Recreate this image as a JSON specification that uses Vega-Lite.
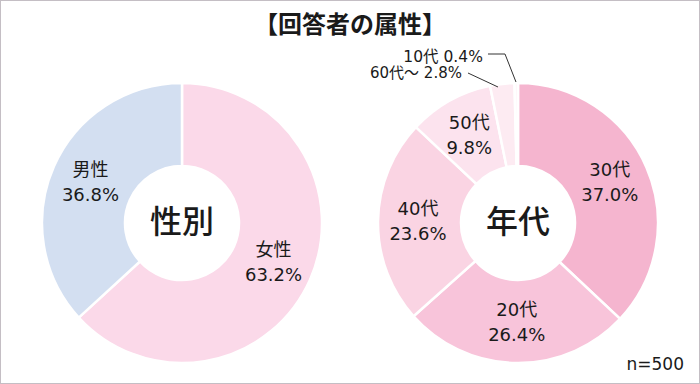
{
  "$schema": "https://vega.github.io/schema/vega-lite/v6.json",
  "width": 700,
  "height": 384,
  "autosize": {"type": "fit", "contains": "padding"},
  "padding": 0,
  "background": "white",
  "config": {
    "view": {"stroke": "#c4bec4", "strokeWidth": 2},
    "font": "DejaVu Sans, Noto Sans CJK JP",
    "text": {"font": "DejaVu Sans, Noto Sans CJK JP", "color": "#1a1a1a"}
  },
  "data": {
    "values": [
      {"chart": "性別", "label": "女性", "pct": 63.2, "rank": 1},
      {"chart": "性別", "label": "男性", "pct": 36.8, "rank": 2},
      {"chart": "年代", "label": "30代", "pct": 37.0, "rank": 1},
      {"chart": "年代", "label": "20代", "pct": 26.4, "rank": 2},
      {"chart": "年代", "label": "40代", "pct": 23.6, "rank": 3},
      {"chart": "年代", "label": "50代", "pct": 9.8, "rank": 4},
      {"chart": "年代", "label": "60代～", "pct": 2.8, "rank": 5},
      {"chart": "年代", "label": "10代", "pct": 0.4, "rank": 6}
    ]
  },
  "transform": [
    {"stack": "pct", "groupby": ["chart"], "sort": [{"field": "rank", "order": "ascending"}], "as": ["t0", "t1"]},
    {"calculate": "(datum.t0 + datum.t1) / 2", "as": "mid"},
    {"calculate": "[datum.label, format(datum.pct, '.1f') + '%']", "as": "lines"},
    {"calculate": "datum.label + ' ' + format(datum.pct, '.1f') + '%'", "as": "line1"}
  ],
  "layer": [
    {
      "mark": {"type": "arc", "outerRadius": 140, "innerRadius": 57, "stroke": "white", "strokeWidth": 2.5},
      "encoding": {
        "x": {"field": "chart", "type": "nominal", "scale": {"type": "point", "domain": ["性別", "年代"], "padding": 0.5417}, "axis": null},
        "y": {"datum": 0, "type": "quantitative", "scale": {"domain": [-161, 223], "nice": false, "zero": false}, "axis": null},
        "theta": {"field": "t0", "type": "quantitative", "scale": {"domain": [0, 100]}},
        "theta2": {"field": "t1"},
        "color": {
          "field": "label",
          "type": "nominal",
          "scale": {
            "domain": ["女性", "男性", "30代", "20代", "40代", "50代", "60代～", "10代"],
            "range": ["#fbd9e9", "#d3dff1", "#f5b5cf", "#f8c4da", "#fad4e3", "#fce3ee", "#fdebf2", "#fff5f9"]
          },
          "legend": null
        }
      }
    },
    {
      "transform": [{"filter": "datum.pct >= 5"}],
      "mark": {"type": "text", "radius": 100, "fontSize": 18, "lineHeight": 25, "baseline": "middle", "dy": -12},
      "encoding": {
        "x": {"field": "chart", "type": "nominal"},
        "y": {"datum": 0, "type": "quantitative"},
        "theta": {"field": "mid", "type": "quantitative"},
        "text": {"field": "lines"}
      }
    },
    {
      "transform": [{"filter": "datum.label == '60代～'"}],
      "mark": {"type": "text", "radius": 151, "fontSize": 15, "align": "right", "baseline": "middle", "dx": -39},
      "encoding": {
        "x": {"field": "chart", "type": "nominal"},
        "y": {"datum": 0, "type": "quantitative"},
        "theta": {"field": "mid", "type": "quantitative"},
        "text": {"field": "line1"}
      }
    },
    {
      "transform": [{"filter": "datum.label == '60代～'"}],
      "mark": {"type": "point", "shape": "M-0.25,-0.75L-0.1,-0.68", "size": 160000, "filled": false, "color": "#333333", "strokeWidth": 1, "opacity": 1},
      "encoding": {
        "x": {"field": "chart", "type": "nominal"},
        "y": {"datum": 0, "type": "quantitative"}
      }
    },
    {
      "transform": [{"filter": "datum.label == '10代'"}],
      "mark": {"type": "text", "radius": 168, "fontSize": 15.5, "align": "right", "baseline": "middle", "dx": -33, "dy": 2},
      "encoding": {
        "x": {"field": "chart", "type": "nominal"},
        "y": {"datum": 0, "type": "quantitative"},
        "theta": {"field": "mid", "type": "quantitative"},
        "text": {"field": "line1"}
      }
    },
    {
      "transform": [{"filter": "datum.label == '10代'"}],
      "mark": {"type": "point", "shape": "M-0.15,-0.845L-0.065,-0.845L-0.01,-0.705", "size": 160000, "filled": false, "color": "#333333", "strokeWidth": 1, "opacity": 1},
      "encoding": {
        "x": {"field": "chart", "type": "nominal"},
        "y": {"datum": 0, "type": "quantitative"}
      }
    },
    {
      "transform": [{"filter": "datum.rank == 1"}],
      "mark": {"type": "text", "fontSize": 32, "baseline": "middle", "font": "Noto Sans CJK JP", "fontWeight": 500},
      "encoding": {
        "x": {"field": "chart", "type": "nominal"},
        "y": {"datum": 0, "type": "quantitative"},
        "text": {"field": "chart"}
      }
    },
    {
      "data": {"values": [{"title": "【回答者の属性】"}]},
      "mark": {"type": "text", "fontSize": 24, "fontWeight": "bold", "baseline": "middle", "font": "Noto Sans CJK JP"},
      "encoding": {
        "y": {"datum": 197, "type": "quantitative"},
        "text": {"field": "title"}
      }
    },
    {
      "data": {"values": [{"note": "n=500"}]},
      "mark": {"type": "text", "fontSize": 17, "align": "right", "baseline": "middle", "dx": 166},
      "encoding": {
        "x": {"datum": "年代", "type": "nominal"},
        "y": {"datum": -142, "type": "quantitative"},
        "text": {"field": "note"}
      }
    }
  ]
}
